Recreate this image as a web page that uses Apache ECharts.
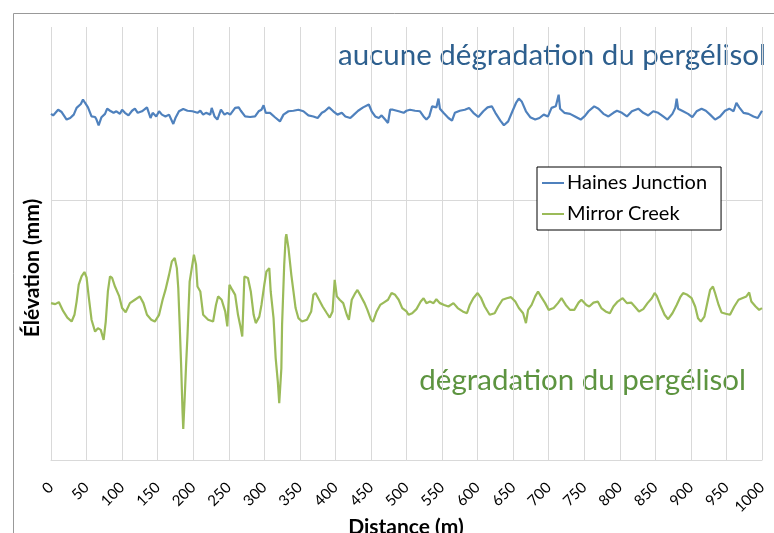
<!DOCTYPE html>
<html>
<head>
<meta charset="utf-8">
<title>Élévation</title>
<script src="https://cdn.jsdelivr.net/npm/echarts@6/dist/echarts.min.js"></script>
<style>
  html, body { margin: 0; padding: 0; background: #fff; }
  #chart { width: 774px; height: 533px; }
</style>
</head>
<body>
<div id="chart"></div>
<script>
// distance (m) / elevation (mm)
var hainesDist = [0,3,10,15,22,27,32,36,42,45,48,50,52,57,62,64,67,71,76,79,83,88,92,97,100,104,109,114,118,122,128,131,135,140,143,148,152,156,161,166,172,175,180,186,192,199,206,210,214,218,224,226,230,234,239,244,248,252,259,264,267,273,280,287,292,296,299,302,308,315,322,327,334,341,348,355,362,369,375,381,385,391,397,403,409,414,421,425,432,439,447,451,456,461,465,470,474,477,481,489,496,500,505,512,519,524,528,532,536,542,545,547,552,559,564,568,575,582,588,594,601,608,614,620,625,632,637,643,649,654,658,662,668,674,681,687,693,699,704,710,714,716,722,730,737,745,751,756,764,770,777,784,791,796,803,810,817,826,833,840,847,854,861,867,874,878,880,882,889,896,902,908,915,921,927,934,941,948,954,960,964,968,974,981,988,994,1000];
var hainesElev = [133.5,132.9,135.1,134.2,131.3,131.9,133.2,135.8,137.3,139.0,137.7,138.3,136.0,132.5,132.3,131.3,129.1,132.2,133.5,135.5,134.7,133.9,134.5,133.5,135.1,133.9,132.9,134.7,135.5,133.9,134.5,135.1,136.0,131.9,133.9,132.5,134.5,133.2,132.5,133.2,129.6,131.9,134.5,135.4,134.7,134.5,133.9,134.7,133.2,133.9,133.2,135.8,132.5,131.3,135.1,133.2,133.9,133.2,135.8,136.0,134.7,132.5,132.3,132.5,134.5,135.1,136.8,133.9,133.9,132.2,130.6,133.2,134.5,134.7,135.1,134.5,132.9,132.5,131.9,133.9,134.5,136.0,134.5,133.2,133.9,132.5,131.9,132.9,134.7,136.0,137.1,134.5,132.5,131.9,132.9,131.3,130.0,135.1,135.1,134.5,133.9,134.7,135.1,134.7,134.5,132.5,131.3,132.5,136.4,136.0,139.4,135.5,133.9,131.9,130.9,133.9,134.7,135.1,135.8,133.9,132.3,134.5,136.0,136.4,133.9,130.9,129.1,130.6,134.5,137.7,139.4,138.3,134.5,132.2,131.3,131.9,133.2,132.5,135.8,136.4,140.9,135.5,133.9,133.5,132.5,131.3,132.7,134.5,136.4,135.5,133.5,132.5,133.9,134.7,133.9,132.5,134.5,135.5,133.9,132.9,134.5,133.9,132.5,131.3,133.5,135.8,139.4,135.5,134.5,133.5,132.2,134.5,135.5,134.7,133.2,131.3,132.5,134.7,135.5,134.5,137.7,136.0,133.9,133.5,132.5,131.9,134.7];

var mirrorDist = [0,6,11,17,23,29,33,36,39,43,47,50,53,57,62,66,70,74,77,80,83,86,90,96,100,105,111,118,125,130,135,141,146,152,157,161,166,170,174,177,179,181,183,185,186,188,190,192,195,198,201,204,206,210,214,221,228,232,235,240,245,248,251,255,259,263,266,269,272,277,281,285,288,293,296,300,303,307,309,313,316,319,321,324,325,328,330,331,334,338,341,344,348,353,360,366,369,372,377,382,388,392,396,399,402,406,411,416,419,423,428,431,436,441,445,450,453,458,463,469,474,479,484,489,494,500,503,508,514,520,524,528,533,538,542,547,553,559,566,572,579,585,589,594,600,605,610,617,624,629,635,641,647,653,658,664,668,671,676,681,685,689,695,700,707,713,718,724,730,736,742,746,753,757,763,769,774,780,786,791,797,804,810,816,821,827,833,839,845,849,852,857,863,868,874,880,885,889,895,901,906,910,914,919,924,927,931,934,939,943,949,955,961,967,972,978,982,985,991,996,1000];
var mirrorElev = [60.5,60.1,60.9,57.5,54.9,53.4,56.0,61.1,67.6,70.8,72.5,70.4,63.1,54.1,49.5,50.8,50.2,46.3,53.4,65.0,70.8,70.2,66.9,63.1,58.6,57.0,60.5,61.8,63.1,60.5,56.0,54.1,53.4,56.0,61.8,65.6,71.4,76.6,77.9,74.0,66.3,52.1,36.7,18.6,12.0,23.8,36.7,48.3,68.8,74.0,79.2,75.3,66.9,65.0,56.0,54.1,53.4,59.8,63.1,61.8,57.3,51.5,67.6,65.6,63.7,56.0,52.1,47.6,70.8,70.2,65.0,56.0,52.8,55.3,59.8,67.6,72.7,74.0,65.0,54.7,39.3,30.2,21.9,35.4,52.1,75.3,85.6,87.1,81.7,71.4,65.0,58.6,54.7,53.4,54.1,57.3,63.7,64.4,61.8,59.2,56.6,54.9,57.3,69.5,63.1,61.8,60.5,56.0,54.1,61.8,64.4,65.6,63.1,60.5,57.9,54.1,53.4,57.3,59.8,60.9,61.8,64.4,63.7,61.8,58.6,57.3,56.0,56.6,58.2,61.1,62.4,60.5,61.1,60.5,62.0,60.5,59.8,59.2,60.5,58.6,57.3,56.6,59.8,62.4,64.4,62.4,59.2,56.0,56.6,59.2,61.8,62.4,62.8,61.1,58.6,56.6,52.8,57.9,59.8,63.1,65.0,63.1,60.5,57.9,58.6,60.5,62.4,59.8,57.9,57.9,60.7,61.8,59.8,59.2,60.7,61.1,58.6,57.3,56.6,59.2,61.1,62.4,60.5,60.7,59.2,57.3,58.2,60.5,62.4,64.4,63.3,59.8,56.0,54.3,56.6,59.8,62.8,64.4,63.7,62.4,59.2,54.7,53.4,55.3,61.8,65.6,66.9,64.4,59.8,56.9,56.4,56.0,59.2,61.8,62.4,63.1,64.6,61.1,59.2,57.9,58.6];

var seriesNames = ['Haines Junction', 'Mirror Creek'];
var seriesColors = ['#4f81bd', '#9bbb59'];

function pairs(xs, ys) {
  var out = [];
  for (var i = 0; i < xs.length; i++) out.push([xs[i], ys[i]]);
  return out;
}

var chart = echarts.init(document.getElementById('chart'));
var font = 'Lato, "Open Sans", sans-serif';

var option = {
  animation: false,
  textStyle: { fontFamily: font },
  grid: { left: 51, right: 12, top: 27, bottom: 73, outerBoundsMode: 'none', containLabel: false },
  legend: {
    orient: 'vertical',
    left: 537,
    top: 167,
    icon: 'rect',
    itemWidth: 22,
    itemHeight: 2,
    itemGap: 11,
    padding: [6, 14, 6, 5],
    borderColor: '#000',
    borderWidth: 1,
    backgroundColor: '#fff',
    textStyle: { fontFamily: font, fontSize: 20, color: '#000', padding: [0, 0, 0, -2] },
    data: seriesNames
  },
  xAxis: {
    type: 'value',
    min: 0,
    max: 1000,
    interval: 50,
    axisLine: { show: true, lineStyle: { color: '#d9d9d9', width: 1 } },
    axisTick: { show: false },
    splitLine: { show: true, lineStyle: { color: '#d9d9d9', width: 1 } },
    axisLabel: {
      rotate: 45, margin: 25, fontSize: 15, color: '#000', fontFamily: font,
      formatter: function (v) { return String(v); }
    }
  },
  yAxis: {
    type: 'value',
    min: 0,
    max: 167,
    interval: 100,
    axisLine: { show: false },
    axisTick: { show: false },
    axisLabel: { show: false },
    splitLine: { show: true, showMaxLine: false, lineStyle: { color: '#d9d9d9', width: 1 } }
  },
  graphic: [
    {
      type: 'rect', left: 11, top: 11, silent: true, z: -10,
      shape: { width: 800, height: 600 },
      style: { fill: 'none', stroke: '#999', lineWidth: 1 }
    },
    {
      type: 'text', x: 406, y: 527,
      style: {
        text: 'Distance (m)', fill: '#000', align: 'center', verticalAlign: 'middle',
        font: 'bold 21px ' + font
      }
    },
    {
      type: 'text', x: 32, y: 268, rotation: Math.PI / 2,
      style: {
        text: 'Élévation (mm)', fill: '#000', align: 'center', verticalAlign: 'middle',
        font: 'bold 21px ' + font
      }
    },
    {
      type: 'text', x: 766, y: 55,
      style: {
        text: 'aucune dégradation du pergélisol', fill: '#2d5f8e', align: 'right', verticalAlign: 'middle',
        font: '29.5px ' + font
      }
    },
    {
      type: 'text', x: 746, y: 380,
      style: {
        text: 'dégradation du pergélisol', fill: '#5d9440', align: 'right', verticalAlign: 'middle',
        font: '29.5px ' + font
      }
    }
  ],
  series: [
    {
      name: seriesNames[0],
      type: 'line',
      symbol: 'none',
      color: seriesColors[0],
      lineStyle: { width: 2.2 },
      data: pairs(hainesDist, hainesElev)
    },
    {
      name: seriesNames[1],
      type: 'line',
      symbol: 'none',
      color: seriesColors[1],
      lineStyle: { width: 2.2 },
      data: pairs(mirrorDist, mirrorElev)
    }
  ]
};

chart.setOption(option);
</script>
</body>
</html>
